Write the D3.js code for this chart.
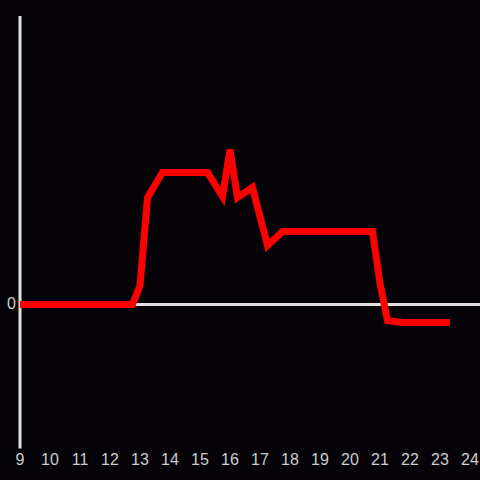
<!DOCTYPE html>
<html>
<head>
<meta charset="utf-8">
<script src="https://cdn.jsdelivr.net/npm/d3@7"></script>
<style>
  body { margin: 0; background: #050308; }
  svg { display: block; }
</style>
</head>
<body>
<div id="chart"></div>
<script>
    // hours of the day and the measured value at each point
    var hours = [9, 12.75, 13, 13.25, 13.75, 15.25, 15.75, 16, 16.25, 16.75, 17.25, 17.75, 20.75, 21, 21.25, 21.75, 23.33];
    var values = [0, 0, 19, 107, 132, 132, 108, 155, 107, 117, 59, 73, 73, 21, -16, -18, -18];
    var xTicks = d3.range(9, 25);
    var yTicks = [0];

    var width = 480,
        height = 480;

    var svg = d3.select("#chart")
        .append("svg")
        .attr("width", width)
        .attr("height", height)

    svg.append("rect").attr("width", width).attr("height", height).attr("fill", "#050308")

    var x = d3.scaleLinear().domain([9, 24]).range([20, 470])
    var y = d3.scaleLinear().domain([-144, 288.5]).range([448.5, 16])

    // vertical axis
    svg.append("line")
        .attr("x1", x(9)).attr("x2", x(9))
        .attr("y1", y(-144)).attr("y2", y(288.5))
        .attr("stroke", "#e0e0e0").attr("stroke-width", 3)

    // zero line
    svg.append("line")
        .attr("x1", x(9)).attr("x2", width)
        .attr("y1", y(0)).attr("y2", y(0))
        .attr("stroke", "#e0e0e0").attr("stroke-width", 3)

    svg.selectAll(".xlabel")
        .data(xTicks)
        .enter().append("text")
        .attr("class", "xlabel")
        .attr("x", function(d) { return x(d) })
        .attr("y", 461)
        .attr("text-anchor", "middle")
        .attr("dominant-baseline", "middle")
        .style("font-family", "Liberation Sans, Arial, sans-serif")
        .style("font-size", "16px")
        .attr("fill", "#cccccc")
        .text(function(d) { return d })

    svg.selectAll(".ylabel")
        .data(yTicks)
        .enter().append("text")
        .attr("class", "ylabel")
        .attr("x", 16)
        .attr("y", function(d) { return y(d) + 0.5 })
        .attr("text-anchor", "end")
        .attr("dominant-baseline", "middle")
        .style("font-family", "Liberation Sans, Arial, sans-serif")
        .style("font-size", "16px")
        .attr("fill", "#cccccc")
        .text(function(d) { return d })

    var line = d3.line()
        .x(function(d, i) { return x(hours[i]) })
        .y(function(d) { return y(d) })

    svg.append("path")
        .datum(values)
        .attr("d", line)
        .attr("fill", "none")
        .attr("stroke", "#ff0000")
        .attr("stroke-width", 7)
        .attr("stroke-linejoin", "miter")
</script>
</body>
</html>
